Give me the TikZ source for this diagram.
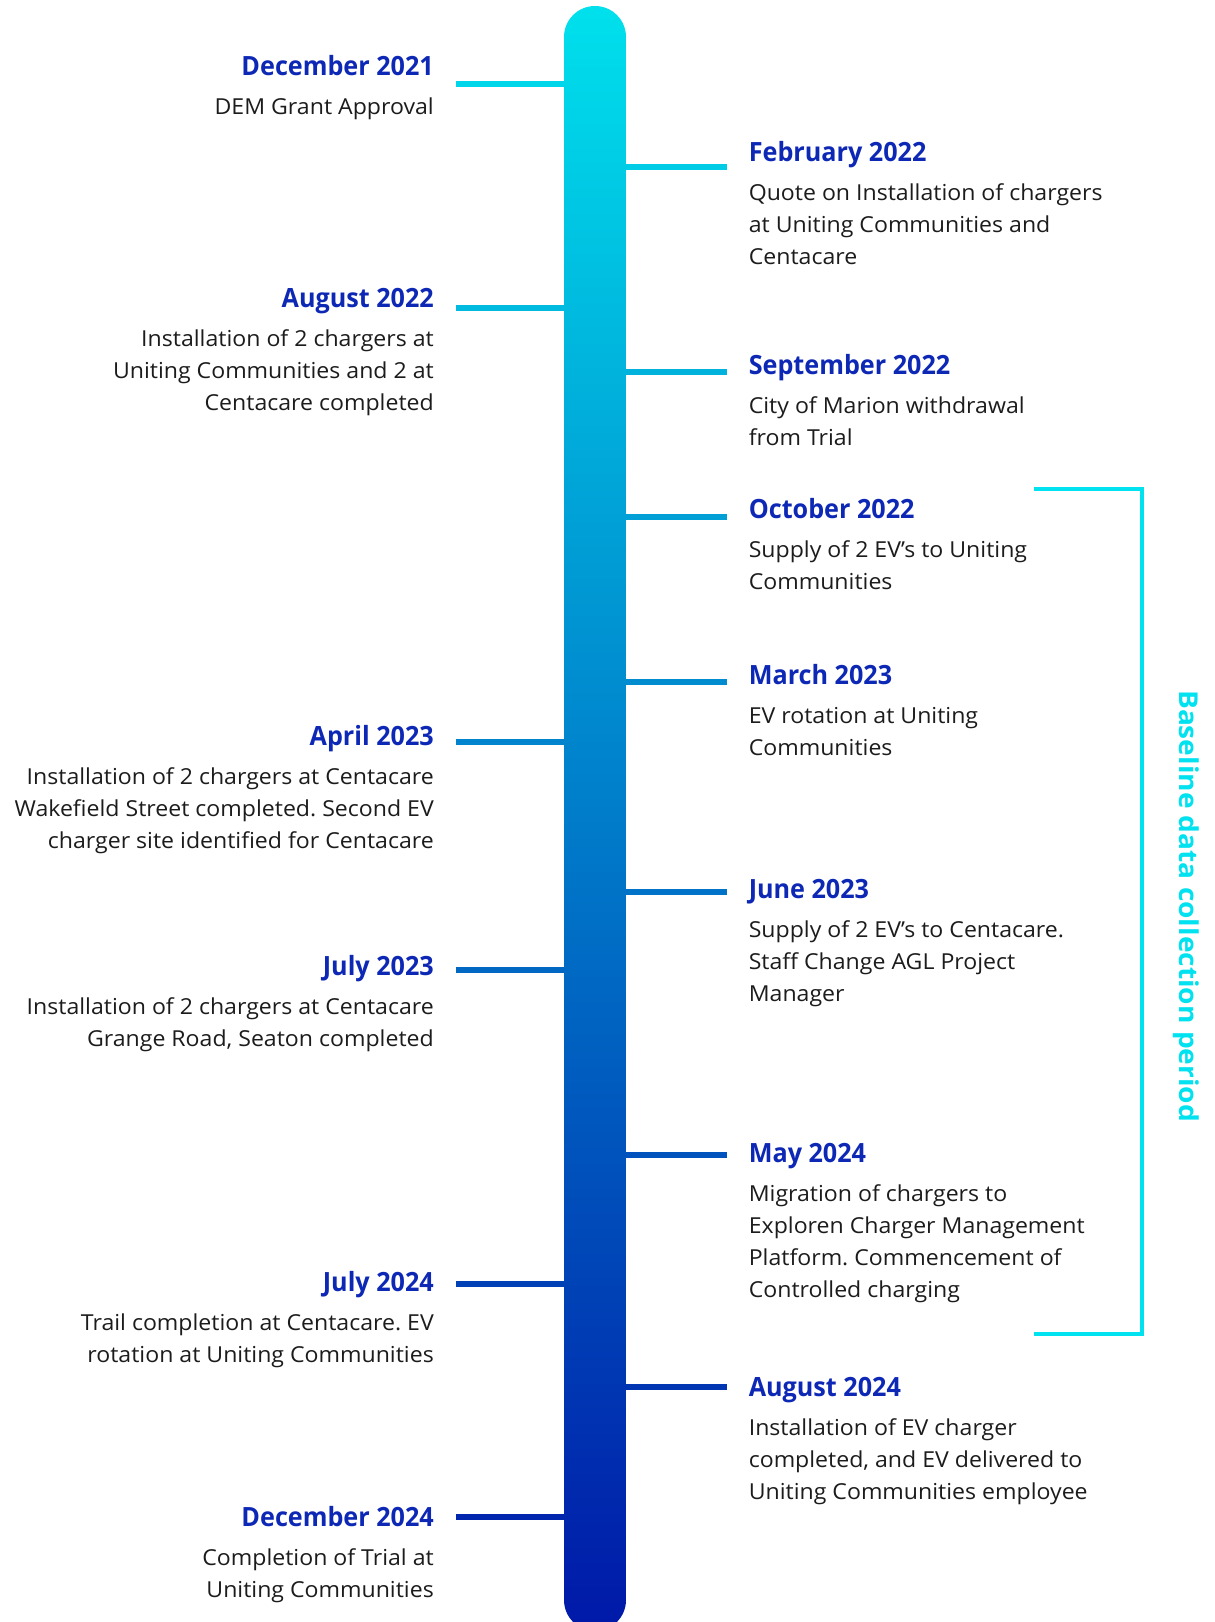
\documentclass[tikz,border=0pt]{standalone}
\usepackage{fontspec}
\setmainfont[FakeStretch=1.05]{Open Sans}
\newfontfamily\headfont[FakeStretch=0.95]{Open Sans}
\newfontfamily\labelfont[FakeStretch=1.08]{Open Sans}
\frenchspacing
\definecolor{tlTop}{RGB}{0,224,236}
\definecolor{tlBot}{RGB}{0,24,168}
\definecolor{headblue}{RGB}{14,40,182}
\definecolor{bodytext}{RGB}{28,28,28}
\definecolor{bracketcyan}{RGB}{0,226,240}
\begin{document}
\begin{tikzpicture}[x=1pt,y=-1pt,
  headL/.style={anchor=base east, inner sep=0pt, font=\headfont\bfseries\fontsize{26.5}{30}\selectfont, text=headblue},
  headR/.style={anchor=base west, inner sep=0pt, font=\headfont\bfseries\fontsize{26.5}{30}\selectfont, text=headblue},
  bodyL/.style={anchor=base east, inner sep=0pt, align=right, font=\fontsize{22}{32}\selectfont, text=bodytext},
  bodyR/.style={anchor=base west, inner sep=0pt, align=left, font=\fontsize{22}{32}\selectfont, text=bodytext},
  tick/.style={line width=6pt},
]
\useasboundingbox (0,0) rectangle (1215,1622);
\fill[white] (0,0) rectangle (1215,1622);
% bar
\node[shade, top color=tlTop, bottom color=tlBot, rounded corners=31pt, inner sep=0pt,
      minimum width=62pt, minimum height=1625pt] (bar) at (595,818.5) {};
% ticks
\coordinate (k1) at (456,84);
\coordinate (k2) at (727,167);
\coordinate (k3) at (456,308);
\coordinate (k4) at (727,372);
\coordinate (k5) at (727,517);
\coordinate (k6) at (727,682);
\coordinate (k7) at (456,742);
\coordinate (k8) at (727,892);
\coordinate (k9) at (456,970);
\coordinate (k10) at (727,1155);
\coordinate (k11) at (456,1284);
\coordinate (k12) at (727,1387);
\coordinate (k13) at (456,1517);
\draw[tick, tlBot!5!tlTop] (k1) -- (k1 -| bar.west);
\draw[tick, tlBot!10!tlTop] (k2) -- (k2 -| bar.east);
\draw[tick, tlBot!19!tlTop] (k3) -- (k3 -| bar.west);
\draw[tick, tlBot!23!tlTop] (k4) -- (k4 -| bar.east);
\draw[tick, tlBot!32!tlTop] (k5) -- (k5 -| bar.east);
\draw[tick, tlBot!42!tlTop] (k6) -- (k6 -| bar.east);
\draw[tick, tlBot!46!tlTop] (k7) -- (k7 -| bar.west);
\draw[tick, tlBot!55!tlTop] (k8) -- (k8 -| bar.east);
\draw[tick, tlBot!60!tlTop] (k9) -- (k9 -| bar.west);
\draw[tick, tlBot!71!tlTop] (k10) -- (k10 -| bar.east);
\draw[tick, tlBot!79!tlTop] (k11) -- (k11 -| bar.west);
\draw[tick, tlBot!85!tlTop] (k12) -- (k12 -| bar.east);
\draw[tick, tlBot!93!tlTop] (k13) -- (k13 -| bar.west);
% events (body nodes anchored at the baseline of their last line)
\node[headL] (h1) at (434,75.5) {December 2021};
\node[bodyL] (b1) at (434,114.5) {DEM Grant Approval};
\node[headR] (h2) at (748.6,161.5) {February 2022};
\node[bodyR] (b2) at (748.6,264.5) {Quote on Installation of chargers\\at Uniting Communities and\\Centacare};
\node[headL] (h3) at (434,307.5) {August 2022};
\node[bodyL] (b3) at (434,410.5) {Installation of 2 chargers at\\Uniting Communities and 2 at\\Centacare completed};
\node[headR] (h4) at (748.6,374.5) {September 2022};
\node[bodyR] (b4) at (748.6,445.5) {City of Marion withdrawal\\from Trial};
\node[headR] (h5) at (748.6,518.5) {October 2022};
\node[bodyR] (b5) at (748.6,589.5) {Supply of 2 EV’s to Uniting\\Communities};
\node[headR] (h6) at (748.6,684.5) {March 2023};
\node[bodyR] (b6) at (748.6,755.5) {EV rotation at Uniting\\Communities};
\node[headL] (h7) at (434,745.5) {April 2023};
\node[bodyL] (b7) at (434,848.5) {Installation of 2 chargers at Centacare\\Wakefield Street completed. Second EV\\charger site identified for Centacare};
\node[headR] (h8) at (748.6,898.5) {June 2023};
\node[bodyR] (b8) at (748.6,1001.5) {Supply of 2 EV’s to Centacare.\\Staff Change AGL Project\\Manager};
\node[headL] (h9) at (434,975.5) {July 2023};
\node[bodyL] (b9) at (434,1046.5) {Installation of 2 chargers at Centacare\\Grange Road, Seaton completed};
\node[headR] (h10) at (748.6,1162.5) {May 2024};
\node[bodyR] (b10) at (748.6,1297.5) {Migration of chargers to\\Exploren Charger Management\\Platform. Commencement of\\Controlled charging};
\node[headL] (h11) at (434,1291.5) {July 2024};
\node[bodyL] (b11) at (434,1362.5) {Trail completion at Centacare. EV\\rotation at Uniting Communities};
\node[headR] (h12) at (748.6,1396.5) {August 2024};
\node[bodyR] (b12) at (748.6,1499.5) {Installation of EV charger\\completed, and EV delivered to\\Uniting Communities employee};
\node[headL] (h13) at (434,1526.5) {December 2024};
\node[bodyL] (b13) at (434,1597.5) {Completion of Trial at\\Uniting Communities};
% bracket
\coordinate (br1) at (1034,489);
\coordinate (br2) at (1034,1334);
\draw[bracketcyan, line width=4pt] (br1) -- ++(108,0) |- (br2);
\node[rotate=-90, anchor=base, inner sep=0pt, text=bracketcyan,
      font=\labelfont\bfseries\fontsize{26}{30}\selectfont] (lbl) at (1179,906) {Baseline data collection period};
\end{tikzpicture}
\end{document}
